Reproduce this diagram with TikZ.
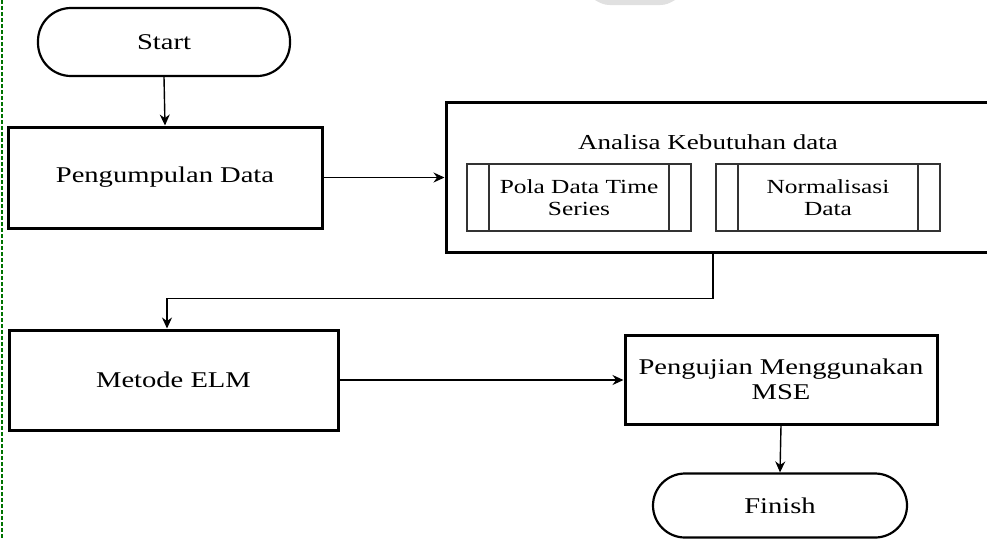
\documentclass[tikz,border=0pt]{standalone}
\usepackage{fontspec}
\setmainfont{Liberation Serif}[FakeStretch=1.27]
\usetikzlibrary{arrows.meta}
\begin{document}
\begin{tikzpicture}[x=1pt,y=-1pt,
  every node/.style={font=\fontsize{22.5}{24.5}\selectfont, align=center, inner sep=0pt},
  proc/.style={draw, line width=3pt, rectangle},
  term/.style={draw, line width=2.2pt, rectangle, rounded corners=33pt},
  subproc/.style={draw=black!80, line width=1.4pt, rectangle, minimum width=224pt, minimum height=67pt,
    font=\fontsize{20}{22}\selectfont,
    path picture={
      \draw[line width=1.4pt, draw=black!80]
        ([xshift=22pt]path picture bounding box.north west) -- ([xshift=22pt]path picture bounding box.south west)
        ([xshift=-22pt]path picture bounding box.north east) -- ([xshift=-22pt]path picture bounding box.south east);
    }},
  arr/.style={-{Stealth[length=11pt,width=10pt]}, line width=1.4pt},
  scanmark/.style={draw=green!45!black, line width=1.6pt, dash pattern=on 4pt off 2pt}]
\useasboundingbox (0,0) rectangle (987,539);
\fill[white] (0,0) rectangle (987,539);
\begin{scope}
\clip (0,0) rectangle (987,539);
% scan artefacts
\draw[scanmark] (2,0) -- (2,539);
\fill[black!12] (595,0) -- (675,0) to[out=-150,in=0] (660,5) -- (610,5) to[out=180,in=-30] cycle;

\node[term, minimum width=252pt, minimum height=68pt] (start) at (164,42) {Start};
\node[proc, minimum width=314pt, minimum height=101pt] (pengumpulan) at (165,177.5) {Pengumpulan Data};
\node[proc, minimum width=554pt, minimum height=150pt] (analisa) at (723,177) {};
\node[font=\fontsize{21.3}{24}\selectfont] (analisatitle) at (708,142) {Analisa Kebutuhan data};
\node[subproc] (pola) at (579,197.5) {Pola Data Time\\Series};
\node[subproc] (norm) at (828,197.5) {Normalisasi\\Data};
\node[proc, minimum width=329pt, minimum height=100pt] (metode) at (173.5,380) {Metode ELM};
\node[proc, minimum width=312pt, minimum height=89pt] (pengujian) at (781,379.5) {Pengujian Menggunakan\\MSE};
\node[term, minimum width=254pt, minimum height=64pt, rounded corners=32pt] (finish) at (780,505.5) {Finish};

\draw[arr] (start.south) -- (pengumpulan.north);
\draw[arr] (pengumpulan.east) -- (pengumpulan.east -| analisa.west);
\draw[arr] ([xshift=-10pt]analisa.south) -- ++(0,45) -| ([xshift=-6.5pt]metode.north);
\draw[arr] (metode.east) -- (metode.east -| pengujian.west);
\draw[arr] (pengujian.south) -- (finish.north);
\end{scope}
\end{tikzpicture}
\end{document}
